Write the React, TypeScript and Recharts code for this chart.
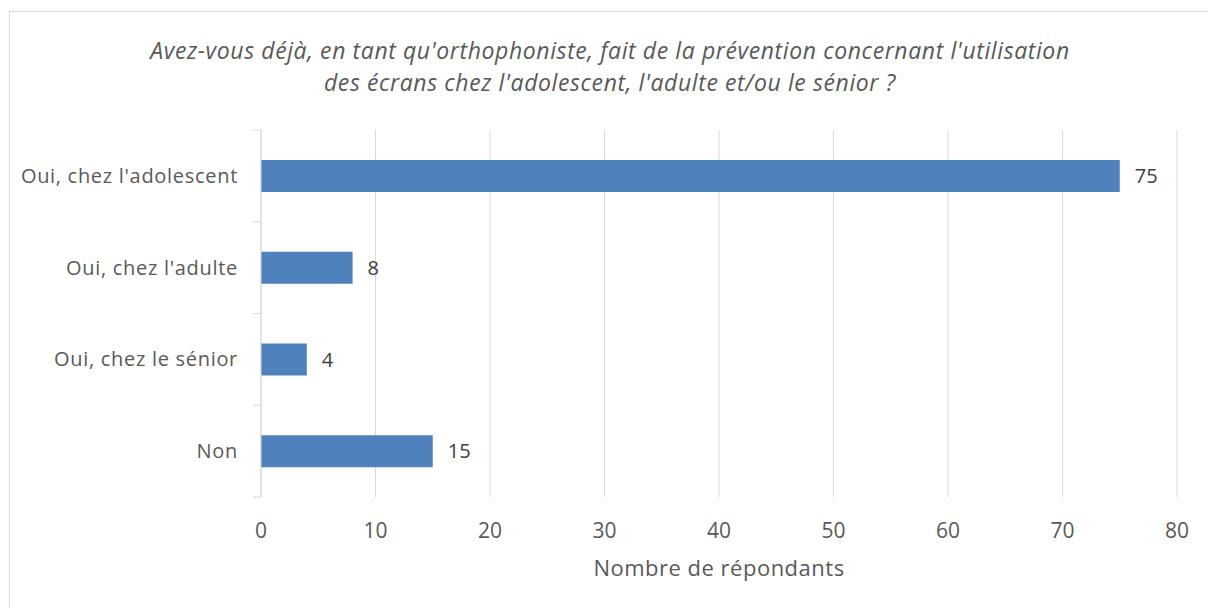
import React from "react";
import {
  BarChart,
  Bar,
  XAxis,
  YAxis,
  CartesianGrid,
  LabelList,
  Label,
} from "recharts";

const categories = [
  "Oui, chez l'adolescent",
  "Oui, chez l'adulte",
  "Oui, chez le sénior",
  "Non",
];
const respondents = [75, 8, 4, 15];
const xTicks = [0, 10, 20, 30, 40, 50, 60, 70, 80];

const titleLines = [
  "Avez-vous déjà, en tant qu'orthophoniste, fait de la prévention concernant l'utilisation",
  "des écrans chez l'adolescent, l'adulte et/ou le sénior ?",
];

const chartData = categories.map((name, i) => ({ name, value: respondents[i] }));

const FONT = "'Open Sans', 'Noto Sans', sans-serif";
const GRID = "#d9d9d9";
const TEXT = "#595959";

// category label plus Excel-style tick marks on the band edges
const CategoryTick = (props: any) => {
  const { x, y, payload, index, visibleTicksCount } = props;
  const half = payload.offset || 0;
  const isLast = index === visibleTicksCount - 1;
  return (
    <g>
      <line x1={x - 8} x2={x} y1={y - half} y2={y - half} stroke={GRID} />
      {isLast && <line x1={x - 8} x2={x} y1={y + half} y2={y + half} stroke={GRID} />}
      <text
        x={x - 23}
        y={y}
        dy="0.355em"
        textAnchor="end"
        fill={TEXT}
        fontSize={20}
        letterSpacing={0.7}
        fontFamily={FONT}
      >
        {payload.value}
      </text>
    </g>
  );
};

const App: React.FC = () => {
  return (
    <div
      style={{
        position: "fixed",
        left: 0,
        top: 0,
        width: 1208,
        height: 608,
        background: "#fff",
        overflow: "hidden",
        fontFamily: FONT,
      }}
    >
      <div
        style={{
          position: "absolute",
          left: 9,
          top: 11,
          width: 1230,
          height: 630,
          border: `1px solid ${GRID}`,
        }}
      />
      <div
        style={{
          position: "absolute",
          left: 0,
          top: 34,
          width: 1220,
          textAlign: "center",
          fontStyle: "italic",
          fontSize: 23,
          letterSpacing: 0.6,
          lineHeight: "32px",
          color: TEXT,
        }}
      >
        {titleLines.map((l) => (
          <div key={l}>{l}</div>
        ))}
      </div>
      <div style={{ position: "absolute", left: 0, top: 0 }}>
        <BarChart
          width={1208}
          height={608}
          data={chartData}
          layout="vertical"
          margin={{ top: 130, right: 31, bottom: 0, left: 0 }}
        >
          <CartesianGrid horizontal={false} stroke={GRID} yAxisId="cat" />
          <XAxis
            type="number"
            domain={[0, 80]}
            ticks={xTicks}
            axisLine={false}
            tickLine={false}
            tickSize={0}
            tickMargin={26}
            height={111}
            tick={{ fill: TEXT, fontSize: 21, fontFamily: FONT }}
          >
            <Label
              value="Nombre de répondants"
              position="insideBottom"
              offset={32}
              style={{ fill: TEXT, fontSize: 22, letterSpacing: 0.5, fontFamily: FONT }}
            />
          </XAxis>
          <YAxis
            yAxisId="cat"
            type="category"
            dataKey="name"
            width={261}
            axisLine={{ stroke: GRID }}
            tickLine={false}
            tickSize={0}
            tickMargin={0}
            tick={<CategoryTick />}
          />
          <Bar
            yAxisId="cat"
            dataKey="value"
            fill="#4f81bd"
            barSize={32}
            isAnimationActive={false}
          >
            <LabelList
              dataKey="value"
              position="right"
              offset={15}
              style={{ fill: "#404040", fontSize: 20, fontFamily: FONT }}
            />
          </Bar>
        </BarChart>
      </div>
    </div>
  );
};

export default App;
